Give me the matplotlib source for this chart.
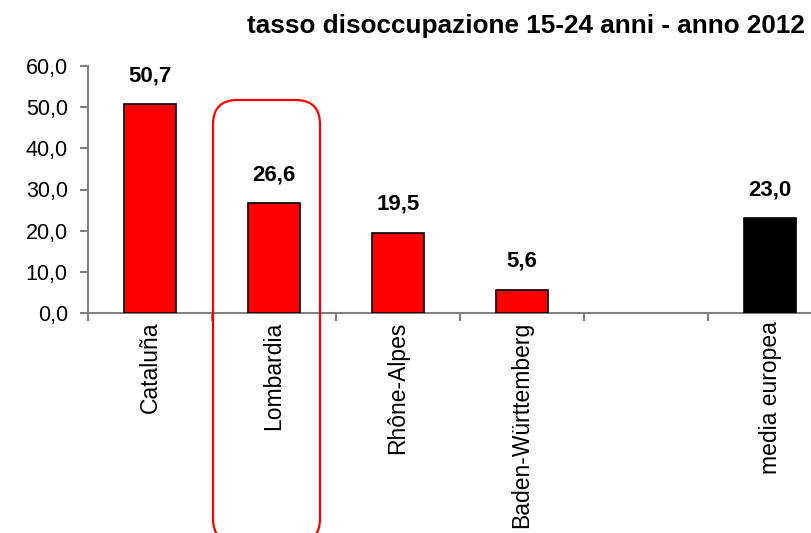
import matplotlib.pyplot as plt
from matplotlib.patches import FancyBboxPatch
import numpy as np

plt.rcParams['font.family'] = ['Liberation Sans Narrow', 'Liberation Sans', 'DejaVu Sans']

categories = ["Cataluña", "Lombardia", "Rhône-Alpes", "Baden-Württemberg", "", "media europea"]
values = [50.7, 26.6, 19.5, 5.6, None, 23.0]
bar_colors = ["#ff0000", "#ff0000", "#ff0000", "#ff0000", "#ff0000", "#000000"]
yticks = [0, 10, 20, 30, 40, 50, 60]

fig = plt.figure(figsize=(8.12, 5.33), dpi=100)
W, H = 812, 533
ax = fig.add_axes([88 / W, (H - 313) / H, 744 / W, 247 / H])

x = np.arange(len(categories))
for xi, v, c in zip(x, values, bar_colors):
    if v is None:
        continue
    ax.bar(xi, v, width=0.42, color=c, edgecolor="black", linewidth=1.2, zorder=3)
    ax.annotate(f"{v:.1f}".replace(".", ","), (xi, v), xytext=(0, 13),
                textcoords="offset points", ha="center", va="bottom",
                fontsize=16, fontweight="bold")

ax.set_xlim(-0.5, len(categories) - 0.5)
ax.set_ylim(0, 60)
ax.set_yticks(yticks)
ax.set_yticklabels([f"{t:.1f}".replace(".", ",") for t in yticks], fontsize=15.5)

ax.set_xticks(x)
ax.set_xticklabels(categories, rotation=90, fontsize=16.5, va="top")
ax.tick_params(axis="x", length=0, pad=6)
ax.set_xticks(np.arange(-0.5, len(categories)), minor=True)
ax.tick_params(axis="x", which="minor", length=6, color="#808080", width=1.5)
ax.tick_params(axis="y", length=6, color="#808080", width=1.5, pad=8.5)

for s in ["top", "right"]:
    ax.spines[s].set_visible(False)
for s in ["left", "bottom"]:
    ax.spines[s].set_color("#808080")
    ax.spines[s].set_linewidth(1.5)

fig.text(805 / W, 1 - 26 / H, "tasso disoccupazione 15-24 anni - anno 2012",
         ha="right", va="center", fontsize=18.8, fontweight="bold")

# red highlight box round Lombardia
box = FancyBboxPatch((213 / W, -10 / H), 107 / W, (H - 100 + 10) / H,
                     boxstyle="round,pad=0,rounding_size=0.03",
                     transform=fig.transFigure, fill=False,
                     edgecolor="#ff0000", linewidth=1.6, clip_on=False,
                     mutation_aspect=W / H)
fig.patches.append(box)

fig.savefig("out.png", dpi=100)
